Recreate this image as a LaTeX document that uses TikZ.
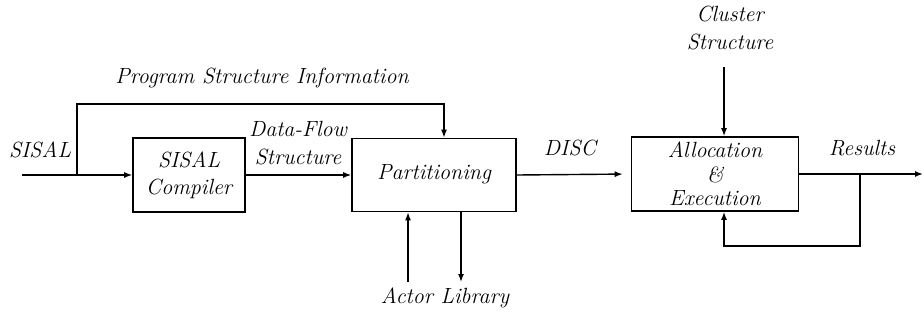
\documentclass[tikz,border=0pt]{standalone}
\usetikzlibrary{arrows.meta}
\begin{document}
\begin{tikzpicture}[x=0.5pt,y=-0.5pt,
  txt/.style={font=\fontsize{11}{13}\selectfont\itshape, inner sep=0pt, align=center},
  blk/.style={draw, line width=0.8pt, inner sep=0pt, align=center, font=\fontsize{11}{12.5}\selectfont\itshape},
  arr/.style={line width=0.7pt, -{Latex[length=4pt,width=3pt]}},
  ln/.style={line width=0.7pt}]
\useasboundingbox (0,0) rectangle (924,321);
% blocks
\node[blk, minimum width=56pt, minimum height=37pt] (comp) at (189,175) {SISAL\\[1pt]Compiler};
\node[blk, minimum width=82pt, minimum height=36.5pt] (part) at (434,175) {\raisebox{3.5pt}{Partitioning}};
\node[blk, minimum width=83.5pt, minimum height=37pt] (alloc) at (715,174) {\raisebox{1pt}{Allocation}\\[-1pt]\&\\[-1pt]Execution};
% labels
\node[txt] (sisal) at (40,150) {SISAL};
\node[txt] (psi) at (262,78) {Program Structure Information};
\node[txt] (dfs) at (298,143) {Data-Flow\\[1pt]Structure};
\node[txt] (disc) at (570,148) {DISC};
\node[txt] (clus) at (730,28) {Cluster\\[1pt]Structure};
\node[txt] (res) at (862,148) {Results};
\node[txt] (actor) at (445,298) {Actor Library};
% coordinates
\coordinate (sin) at (22,175);
\coordinate (br) at (77,175);
\coordinate (pin) at (444,104);
\coordinate (cs) at (724,67);
\coordinate (rout) at (923,174);
\coordinate (fb) at (860,174);
\coordinate (fbb) at (724,246);
\coordinate (aup) at (408,282);
\coordinate (adn) at (461,282);
% connectors
\draw[arr] (sin) -- (comp.west);
\draw[arr] (br) |- (pin) -- (pin |- part.north);
\draw[arr] (comp.east) -- (comp.east -| part.west);
\draw[arr, shorten >=4pt] (part.east) -- (alloc.west);
\draw[arr] (cs) -- (cs |- alloc.north);
\draw[arr] (alloc.east) -- (rout);
\draw[arr] (fb) |- (fbb) -- (fbb |- alloc.south);
\draw[arr] (aup) -- (aup |- part.south);
\draw[arr] (adn |- part.south) -- (adn);
\end{tikzpicture}
\end{document}
